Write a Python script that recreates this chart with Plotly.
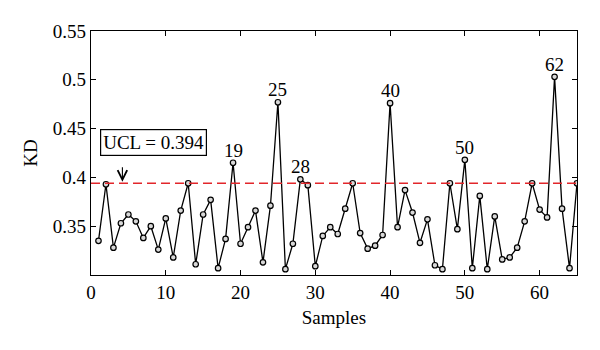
import plotly.graph_objects as go

# KD statistic per sample
samples = list(range(1, 66))
kd = [0.335, 0.393, 0.328, 0.353, 0.362, 0.355, 0.338, 0.350, 0.326, 0.358,
      0.318, 0.366, 0.394, 0.311, 0.362, 0.377, 0.307, 0.337, 0.415, 0.332,
      0.349, 0.366, 0.313, 0.371, 0.477, 0.306, 0.332, 0.398, 0.392, 0.309,
      0.340, 0.349, 0.342, 0.368, 0.394, 0.343, 0.327, 0.330, 0.341, 0.476,
      0.349, 0.387, 0.364, 0.333, 0.357, 0.310, 0.306, 0.394, 0.347, 0.418,
      0.307, 0.381, 0.306, 0.360, 0.316, 0.318, 0.328, 0.355, 0.394, 0.367,
      0.359, 0.503, 0.368, 0.307, 0.394]
ucl = 0.394
flagged = [19, 25, 28, 40, 50, 62]
x_ticks = [0, 10, 20, 30, 40, 50, 60]
y_ticks = [0.35, 0.4, 0.45, 0.5, 0.55]

FONT = "Liberation Serif"
FS = 19

fig = go.Figure()

# KD series
fig.add_trace(go.Scatter(
    x=samples, y=kd, mode="lines+markers",
    line=dict(color="black", width=1.3),
    marker=dict(symbol="circle", size=5.5, color="#d8d8d8",
                line=dict(color="black", width=1.2)),
    showlegend=False))

# control limit, drawn over the series
fig.add_trace(go.Scatter(
    x=[0, 65], y=[ucl, ucl], mode="lines",
    line=dict(color="#e2262b", width=1.5, dash="9px,5px"),
    hoverinfo="skip", showlegend=False))

annotations = []
for s in flagged:
    annotations.append(dict(
        x=s, y=kd[s - 1], text=str(s), showarrow=False,
        xanchor="center", yanchor="bottom", yshift=0,
        font=dict(family=FONT, size=FS, color="black")))

# UCL label box and arrow
annotations.append(dict(
    x=4.2, y=ucl + 0.0015, text="", showarrow=True,
    ax=0, ay=-16, arrowhead=5, arrowsize=1.7, arrowwidth=1.1,
    arrowcolor="black"))
annotations.append(dict(
    x=8.36, y=0.4358, text="UCL = 0.394", showarrow=False,
    xanchor="center", yanchor="middle",
    bordercolor="black", borderwidth=1.2, borderpad=2, bgcolor="white",
    font=dict(family=FONT, size=FS, color="black")))

axis_common = dict(
    showline=True, linecolor="black", linewidth=1.2, mirror="ticks",
    ticks="inside", ticklen=5, tickwidth=1, tickcolor="black",
    showgrid=False, zeroline=False,
    tickfont=dict(family=FONT, size=FS, color="black"))

fig.update_layout(
    width=600, height=350,
    margin=dict(l=91, r=23, t=31, b=75),
    paper_bgcolor="white", plot_bgcolor="white",
    xaxis=dict(range=[0, 65], tickvals=x_ticks,
               title=dict(text="Samples", standoff=8,
                          font=dict(family=FONT, size=FS, color="black")),
               **axis_common),
    yaxis=dict(range=[0.3, 0.55], tickvals=y_ticks,
               ticktext=[f"{v:g}" for v in y_ticks],
               title=dict(text="KD", standoff=10,
                          font=dict(family=FONT, size=FS, color="black")),
               **axis_common),
    annotations=annotations,
)

fig.write_html("out.html")
